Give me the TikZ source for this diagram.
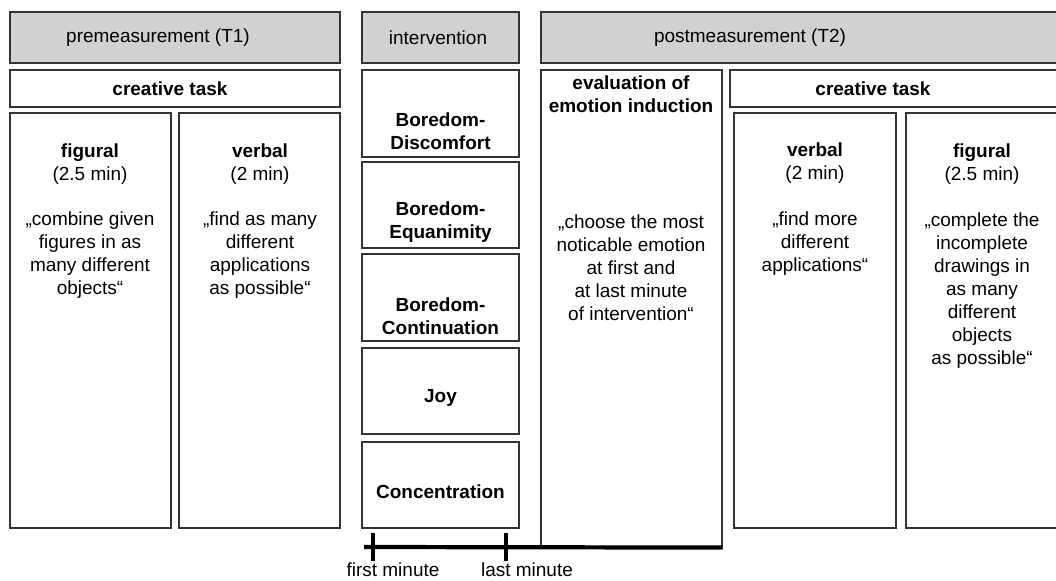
\documentclass[tikz,border=0pt]{standalone}
\usepackage{fontspec}
\setmainfont{Liberation Sans}
\usetikzlibrary{positioning,fit,calc}

\begin{document}
\begin{tikzpicture}[x=0.025cm, y=-0.025cm,
  box/.style={draw=black!80, line width=0.8pt, inner sep=0pt},
  head/.style={box, fill=black!18},
  txt/.style={font=\fontsize{13.5}{16.3}\selectfont, align=center, inner sep=0pt},
  bold/.style={font=\fontsize{13.5}{16.3}\selectfont\bfseries, align=center, inner sep=0pt},
  timeline/.style={line width=3pt},
  tick/.style={line width=3pt}]
\useasboundingbox (0,0) rectangle (1056,580);
\clip (0,0) rectangle (1056,580);

%============ headers
\node[head, fit={(10,12) (340,63)}] (pre) {};
\node[head, fit={(362,12) (519,63)}] (int) {};
\node[head, fit={(541,12) (1070,63)}] (post) {};
\node[txt] (preT) at (158,38) {premeasurement (T1)};
\node[txt] (intT) at (438,38) {intervention};
\node[txt] (postT) at (750,38) {postmeasurement (T2)};

%============ premeasurement
\node[box, fit={(10,70) (340,107)}] (taskL) {};
\node[bold] (taskLT) at (170,89) {creative task};
\node[box, fit={(10,113) (171,528)}] (figL) {};
\node[box, fit={(179,113) (340,528)}] (verbL) {};
\node[txt] (figLT) at (90,221) {\textbf{figural}\\(2.5 min)\\[16.3pt]„combine given\\figures in as\\many different\\objects“};
\node[txt] (verbLT) at (260,221) {\textbf{verbal}\\(2 min)\\[16.3pt]„find as many\\different\\applications\\as possible“};

%============ intervention
\node[box, fit={(362,70) (519,157)}] (dis) {};
\node[box, fit={(362,162) (519,248)}] (equ) {};
\node[box, fit={(362,254) (519,341)}] (con) {};
\node[box, fit={(362,348) (519,434)}] (joy) {};
\node[box, fit={(362,442) (519,528)}] (conc) {};
\node[bold] (disT) at ($(dis.center)+(0,18)$) {Boredom-\\Discomfort};
\node[bold] (equT) at ($(equ.center)+(0,17)$) {Boredom-\\Equanimity};
\node[bold] (conT) at ($(con.center)+(0,19)$) {Boredom-\\Continuation};
\node[bold] (joyT) at ($(joy.center)+(0,7)$) {Joy};
\node[bold] (concT) at ($(conc.center)+(0,7)$) {Concentration};

%============ postmeasurement
\node[box, fit={(541,70) (722,547)}] (eval) {};
\node[bold] (evalT) at (631,94) {evaluation of\\emotion induction};
\node[txt] (evalQ) at (631,268) {„choose the most\\noticable emotion\\at first and\\at last minute\\of intervention“};
\node[box, fit={(730,70) (1070,107)}] (taskR) {};
\node[bold] (taskRT) at (873,89) {creative task};
\node[box, fit={(734,113) (896,528)}] (verbR) {};
\node[box, fit={(906,113) (1070,528)}] (figR) {};
\node[txt] (verbRT) at (815,209) {\textbf{verbal}\\(2 min)\\[16.3pt]„find more\\different\\applications“};
\node[txt] (figRT) at (982,256) {\textbf{figural}\\(2.5 min)\\[16.3pt]„complete the\\incomplete\\drawings in\\as many\\different\\objects\\as possible“};

%============ time line
\coordinate (tl) at (364,547);
\coordinate (t1) at (373,547);
\coordinate (t2) at (506,547);
\draw[timeline] (tl) -- (eval.south east);
\draw[tick] ($(t1)+(0,-14)$) -- ($(t1)+(0,14)$);
\draw[tick] ($(t2)+(0,-14)$) -- ($(t2)+(0,14)$);
\node[txt] (t1T) at (393,570) {first minute};
\node[txt] (t2T) at (527,570) {last minute};
\end{tikzpicture}
\end{document}
